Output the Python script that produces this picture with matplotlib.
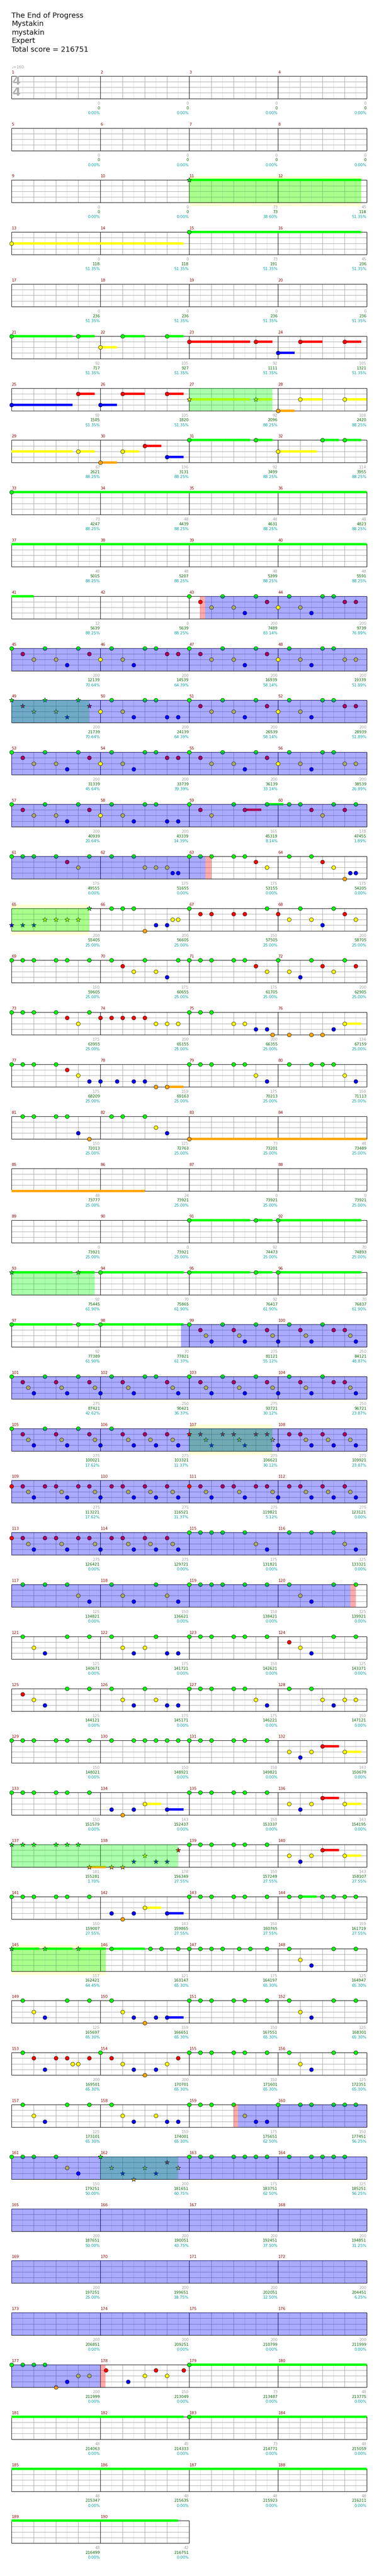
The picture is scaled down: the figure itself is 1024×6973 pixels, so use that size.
import matplotlib.pyplot as plt
from matplotlib.collections import LineCollection
from matplotlib.patches import Rectangle

TITLE_LINES = ["The End of Progress", "Mystakin", "mystakin", "Expert", "Total score = 216751"]
TEMPO = "\u2669=160"
N_MEASURES = 190

# notes per measure: <fret><beat>[~<sustain beats>]
NOTES = {
    11: "G0~7.75",
    13: "Y0~7.75",
    15: "G0~7.75",
    21: "G0~2.75 G3~.75",
    22: "Y0~.75 G1~1 G3~.75",
    23: "R0~2.75 R3~.75",
    24: "B0~.75 R1~1 R3~.75",
    25: "B0~2.75 R3~.75",
    26: "B0~.75 R1~1 R3~.75",
    27: "Y0~2.75 Y3~.75",
    28: "O0~.75 Y1~1 Y3~3.75",
    29: "Y3~.75",
    30: "O0~.75 Y1~.75 R2~.75 B3~.75",
    31: "G0~2.75 G3~.75",
    32: "Y0~1.75 G2~.75 G3~.75",
    33: "G0~33",
    43: "G0 R.5 Y1 G1.5 Y2 B2.5 G3 R3.5",
    44: "Y0 G.5 Y1 B1.5 G2 G2.5 R3 R3.5",
    45: "G0 R.5 Y1 G1.5 Y2 B2.5 G3 R3.5",
    46: "Y0 G.5 Y1 B1.5 G2 G2.5 R3 R3.5",
    47: "G0 R.5 Y1 G1.5 Y2 B2.5 G3 R3.5",
    48: "Y0 G.5 Y1 B1.5 G2 G2.5 Y3 Y3.5",
    49: "G0 R.5 Y1 G1.5 Y2 B2.5 G3 R3.5",
    50: "Y0 G.5 Y1 B1.5 G2 G2.5 B3 B3.5",
    51: "G0 R.5 Y1 G1.5 Y2 B2.5 G3 R3.5",
    52: "Y0 G.5 Y1 B1.5 G2 G2.5 R3 R3.5",
    53: "G0 R.5 Y1 G1.5 Y2 B2.5 G3 R3.5",
    54: "Y0 G.5 Y1 B1.5 G2 G2.5 R3 R3.5",
    55: "G0 R.5 Y1 G1.5 Y2 B2.5 G3 R3.5",
    56: "Y0 G.5 Y1 B1.5 G2 G2.5 Y3 Y3.5",
    57: "G0 R.5 Y1 G1.5 Y2 B2.5 G3 R3.5",
    58: "Y0 G.5 Y1 B1.5 G2 G2.5 B3 B3.5",
    59: "G0 R.5 Y1 G2 R2.5~.75 G3.5~.75",
    60: "G.5 G1 R1.5 Y2 G2.5 R3 G3.5",
    61: "G0 G.5 G1 G2 R2.5 Y3 G3.5",
    62: "G.5 G1.5 Y2 Y2.5 Y3 B3.25 B3.5",
    63: "G0 G.5 G1 G2 G2.5 R3 Y3.5",
    64: "G.5 G1.5 R2 Y2.5 O3 B3.25 B3.5",
    65: "B0 B.5 B1 Y1.5 Y2 Y2.5 Y3 G3.5",
    66: "G.5 G1 G1.5 O2 B2.5 B3 Y3.25 Y3.5",
    67: "G0 R.5 R1 R2 R2.5 G3.5",
    68: "R0 Y.5 G1 Y1.5 B2 G2.5 R3 Y3.5",
    69: "G0 G.5 G1 G2 G2.5 G3.5",
    70: "G.5 R1 Y1.5 G2 Y2.5 B3 G3.5",
    71: "G0 G.5 G1 G2 G2.5 R3 Y3.5",
    72: "G0 Y.5 B1 G1.5 R2 Y2.5 G3 R3.5",
    73: "G0 G.5 G1 G2 R2.5 Y3 G3.5",
    74: "R0 R.5 R1 R1.5 R2 Y2.5 Y3 Y3.5",
    75: "G0 G.5 G1 Y2 Y2.5 B3 B3.5 O3.75",
    76: "O.5 O1.5 O2 B2.5 Y3~.75",
    77: "G0 G.5 G1 G2 R2.5 Y3 B3.5",
    78: "B0 B.75 B1.5 B2 O2.5 O3~.75",
    79: "G0 G.5 G1 G2 G2.5 Y3 B3.5",
    80: "G.5 G1.5 G2 G2.5 Y3 B3.5",
    81: "G.5 G1 G2 G2.5 B3 O3.5",
    82: "G.5 G1 G2 Y2.5 B3",
    83: "O0~14",
    91: "G0~2.75 G3~.75",
    92: "G0~3.75",
    93: "G0~2.75 G3~.75",
    94: "G0~3.75",
    95: "G0~2.75 G3~.75",
    96: "G0~3.75",
    97: "G0~2.75 G3~.75",
    98: "G0~3.75",
    99: "G0 R.5 Y.75 B1 G1.5 R2 Y2.25 B2.5 G3 R3.5 Y3.75",
    100: "B0 G.5 R1 Y1.25 B1.5 G2 R2.5 R3 Y3.25 B3.5",
    101: "G0 R.5 Y.75 B1 G1.5 R2 Y2.25 B2.5 G3 R3.5 Y3.75",
    102: "B0 G.5 R1 Y1.25 B1.5 G2 G2.5 R3 Y3.25 B3.5",
    103: "G0 R.5 Y.75 B1 G1.5 R2 Y2.25 B2.5 G3 R3.5 Y3.75",
    104: "B0 G.5 R1 Y1.25 B1.5 G2 R2.5 R3 Y3.25 B3.5",
    105: "G0 R.5 Y.75 B1 G1.5 R2 Y2.25 B2.5 G3 R3.5 Y3.75",
    106: "B0 G.5 R1 Y1.25 B1.5 R2 Y2.25 B2.5 R3 Y3.25 B3.5",
    107: "R0 R.5 Y.75 B1 R1.5 R2 Y2.25 B2.5 R3 R3.5 Y3.75",
    108: "B0 R.5 R1 Y1.25 B1.5 R2 Y2.25 B2.5 R3 Y3.25 B3.5",
    109: "R0 R.5 Y.75 B1 R1.5 R2 Y2.25 B2.5 R3 R3.5 Y3.75",
    110: "B0 R.5 R1 Y1.25 B1.5 R2 Y2.25 B2.5 R3 Y3.25 B3.5",
    111: "R0 R.5 Y.75 B1 R1.5 R2 Y2.25 B2.5 R3 R3.5 Y3.75",
    112: "B0 R.5 R1 Y1.25 B1.5 R2 Y2.25 B2.5 R3 Y3.25 B3.5",
    113: "R0 R.5 Y.75 B1 R1.5 R2 Y2.25 B2.5 R3 R3.5 Y3.75",
    114: "B0 R.5 R1 Y1.25 B1.5 R2 Y2.25 B2.5 R3 Y3.25 B3.5",
    115: "G0 G.5 G1 G1.5 G2.5 Y3 B3.5",
    116: "G.5 G1.5 G2.5 Y3 B3.5",
    117: "G.5 G1.5 G2.5 Y3 B3.5",
    118: "G.5 Y1 B1.5 G2.5 Y3 B3.5",
    119: "G0 G.5 G1 G1.5 G2.5 G3.5",
    120: "G.5 Y1 B1.5 G2.5 G3.5",
    121: "G.5 Y1 B1.5 G2.5 G3.5",
    122: "G.5 Y1 B1.5 Y2 G2.5 B3 B3.5",
    123: "G0 G.5 G1 G2 G2.5 G3.5",
    124: "R.5 Y1 B1.5 G2.5 G3.5",
    125: "R.5 Y1 B1.5 G2.5 G3.5",
    126: "G.5 Y1 B1.5 G2 Y2.5 B3 B3.5",
    127: "G0 G.5 G1 G2 G2.5 Y3 B3.5",
    128: "G.5 G1.5 Y2 B2.5 Y3 Y3.5",
    129: "G0 G.5 G1 G2 G2.5 G3.5",
    130: "G.5 G1.5 G2 G2.5 G3 G3.5",
    131: "G0 G.5 G1 G2 G2.5 G3.5",
    132: "Y.5 B1 Y1.5 R2~.75 Y3~.75",
    133: "G0 G.5 G1 G2 G2.5 G3.5",
    134: "B.5 O1 B1.5 Y2~.75 B3~.75",
    135: "G0 G.5 G1 G2 G2.5 G3.5",
    136: "Y.5 B1 Y1.5 R2~.75 Y3~.75",
    137: "G0 G.5 G1 G2 G2.5 G3 O3.5~.75",
    138: "O.5 O1 B1.5 Y2 B2.5 B3 R3.5",
    139: "G0 G.5 G1 G2 G2.5 G3.5",
    140: "Y.5 B1 Y1.5 R2~.75 Y3~.75",
    141: "G0 G.5 G1 G2 G2.5 G3.5",
    142: "B.5 O1 B1.5 Y2~.75 B3~.75",
    143: "G0 G.5 G1 G2 G2.5 G3.5",
    144: "G.5 G1~.75 G2 G2.5 G3 G3.5",
    145: "G0~1.25 G1.5~1.25 G3~1.25",
    146: "G.5~1.5 G2.25 G2.75 G3.5",
    147: "G0 G.5 G1 G1.5 G2.25 G2.75 G3.5",
    148: "G.5 Y1 B1.5 G2.5 G3.5",
    149: "G.5 Y1 B1.5 G2.5 G3.5",
    150: "G.5 Y1 B1.5 O2 B2.5 B3~.75",
    151: "G0 G.5 G1 G2 G2.5 G3.5",
    152: "G.5 Y1 B1.5 G2.5 G3.5",
    153: "G.5 R1 B1.5 R2 R2.5 Y2.75 Y3 R3.5",
    154: "G0 R.5 Y1 B1.5 O2 B2.5 Y3 R3.5",
    155: "G0 G.5 G1 G2 G2.5 G3.5",
    156: "G.5 Y1 B1.5 G2.5 G3.5",
    157: "G.5 Y1 B1.5 G2.5 G3.5",
    158: "G.5 Y1 B1.5 Y2.5 B3 B3.5",
    159: "G0 G.5 G1 G2 Y2.5 B3 B3.5",
    160: "G0 G1 G1.5 G2.5 G3 G3.5",
    161: "G0 G.5 G1 G2 Y2.5 B3",
    162: "G0 Y.5 B1 O1.5 Y2 B2.5 R3 Y3.5",
    163: "G0 G.5 G1 G2 G2.5 G3 G3.5",
    164: "G.5 G1.5 G2 G2.5 G3",
    177: "G0 G.5 G1 G1.5 O2 B2.5 Y3 Y3.5",
    178: "R.25 B1.25 Y2 R2.5 Y3 R3.75",
    179: "G0~15.75",
    183: "G0~31.5",
}

# (start measure, beat, end measure, beat)
SP_PHRASES = [(11, 0, 12, 3.75), (27, 0, 27, 3.75), (49, 0, 49, 3.5), (65, 0, 65, 3.5),
              (93, 0, 93, 3.75), (107, 0, 107, 3.75), (137, 0, 138, 3.5), (145, 0, 146, 0.25),
              (162, 0, 162, 3.5)]
ACTIVATIONS = [(43, 0.71, 63, 0.73), (98, 3.64, 120, 3.26), (159, 2.2, 178, 0)]
SQUEEZES = [(43, 0.49, 43, 0.71), (63, 0.73, 63, 1.0), (120, 3.26, 120, 3.5),
            (159, 2.0, 159, 2.2), (178, 0, 178, 0.24)]
WHAMMY = [(11, 0, 12, 3.75), (65, 0, 65, 3.5), (107, 0, 107, 3.75), (145, 0, 146, 0.25)]

BASE_SCORE = [0, 0, 0, 0, 0, 0, 0, 0, 0, 0, 73, 45, 0, 0, 73, 45, 0, 0, 0, 0,
              92, 105, 92, 105, 92, 105, 92, 108, 67, 136, 92, 114, 73, 48, 48, 48, 48, 48, 48, 48,
              12, 0, 200, 200, 200, 200, 200, 200, 200, 200, 200, 200, 200, 200, 200, 200, 200, 200, 165, 178,
              175, 175, 175, 175, 200, 200, 150, 200, 150, 175, 175, 200, 175, 200, 200, 134, 175, 159, 175, 150,
              150, 125, 73, 48, 48, 24, 0, 0, 0, 0, 92, 70, 92, 70, 92, 70, 92, 70, 275, 250,
              275, 250, 275, 250, 275, 275, 275, 275, 275, 275, 275, 275, 275, 275, 175, 125, 125, 150, 150, 125,
              125, 175, 150, 125, 125, 175, 175, 150, 150, 150, 150, 143, 150, 143, 150, 143, 181, 178, 150, 143,
              150, 143, 150, 159, 117, 121, 175, 125, 125, 159, 150, 125, 200, 200, 150, 125, 125, 150, 175, 150,
              150, 200, 175, 125, 200, 200, 200, 200, 200, 200, 200, 200, 200, 200, 200, 200, 200, 150, 73, 48,
              48, 45, 73, 48, 48, 48, 48, 48, 48, 42]
TOTAL_SCORE = [0, 0, 0, 0, 0, 0, 0, 0, 0, 0, 73, 118, 118, 118, 191, 236, 236, 236, 236, 236,
               717, 927, 1111, 1321, 1505, 1820, 2096, 2420, 2621, 3131, 3499, 3955, 4247, 4439, 4631, 4823, 5015, 5207, 5399, 5591,
               5639, 5639, 7489, 9739, 12139, 14539, 16939, 19339, 21739, 24139, 26539, 28939, 31339, 33739, 36139, 38539, 40939, 43339, 45319, 47455,
               49555, 51655, 53155, 54205, 55405, 56605, 57505, 58705, 59605, 60655, 61705, 62905, 63955, 65155, 66355, 67159, 68209, 69163, 70213, 71113,
               72013, 72763, 73201, 73489, 73777, 73921, 73921, 73921, 73921, 73921, 74473, 74893, 75445, 75865, 76417, 76837, 77389, 77821, 81121, 84121,
               87421, 90421, 93721, 96721, 100021, 103321, 106621, 109921, 113221, 116521, 119821, 123121, 126421, 129721, 131821, 133321, 134821, 136621, 138421, 139921,
               140671, 141721, 142621, 143371, 144121, 145171, 146221, 147121, 148021, 148921, 149821, 150679, 151579, 152437, 153337, 154195, 155281, 156349, 157249, 158107,
               159007, 159865, 160765, 161719, 162421, 163147, 164197, 164947, 165697, 166651, 167551, 168301, 169501, 170701, 171601, 172351, 173101, 174001, 175651, 177451,
               179251, 181651, 183751, 185251, 187651, 190051, 192451, 194851, 197251, 199651, 202051, 204451, 206851, 209251, 210799, 211999, 211999, 213049, 213487, 213775,
               214063, 214333, 214771, 215059, 215347, 215635, 215923, 216211, 216499, 216751]
SP_PERCENT = [0.0] * 10 + [38.60, 51.35] + [51.35] * 14 + [88.25] * 16 + \
             [83.14, 76.89, 70.64, 64.39, 58.14, 51.89, 70.64, 64.39, 58.14, 51.89, 45.64, 39.39, 33.14, 26.89, 20.64, 14.39, 8.14, 1.89] + \
             [0.0] * 4 + [25.0] * 28 + [61.90] * 5 + [61.37, 55.12, 48.87, 42.62, 36.37, 30.12, 23.87, 17.62, 11.37, 30.12, 23.87, 17.62, 11.37, 5.12] + \
             [0.0] * 25 + [1.70] + [27.55] * 7 + [64.45] + [65.30] * 13 + [62.50, 56.25, 50.00, 60.75, 62.50, 56.25] + \
             [50.00, 43.75, 37.50, 31.25, 25.00, 18.75, 12.50, 6.25, 0.0, 0.0, 0.0, 0.0] + [0.0] * 14

FRET_COLORS = {"G": "#00ff00", "R": "#ff0000", "Y": "#ffff00", "B": "#0000ff", "O": "#ffa500"}
LANES = "GRYBO"

W, H = 1024, 6973
X0, MEAS_W, BEAT_W = 31, 240, 60
ROW0, ROW_STEP, LANE_H = 205.7, 140.8, 15.25
STAFF_H = 4 * LANE_H


def glob(m, b):
    return (m - 1) * 4 + b


def row_top(r):
    return ROW0 + r * ROW_STEP


def row_spans(g0, g1):
    # split a global beat range into (row, x0, x1) pieces
    out = []
    r = int(g0 // 16)
    while r * 16 < g1 - 1e-9:
        a = max(g0, r * 16)
        b = min(g1, r * 16 + 16)
        if b > a:
            out.append((r, X0 + (a - r * 16) * BEAT_W, X0 + (b - r * 16) * BEAT_W))
        r += 1
    return out


fig = plt.figure(figsize=(W / 100, H / 100), dpi=100)
ax = fig.add_axes([0, 0, 1, 1])
ax.set_xlim(0, W)
ax.set_ylim(H, 0)
ax.axis("off")

# title block
for i, line in enumerate(TITLE_LINES):
    ax.text(31, 42 + i * 23, line, fontsize=14, va="center", ha="left", color="#111111")

n_rows = (N_MEASURES + 3) // 4
light, gray, black = [], [], []
for r in range(n_rows):
    top = row_top(r)
    bot = top + STAFF_H
    nm = min(4, N_MEASURES - 4 * r)
    xr = X0 + nm * MEAS_W
    for k in range(1, 4):
        gray.append([(X0, top + k * LANE_H), (xr, top + k * LANE_H)])
    for j in range(nm):
        xm = X0 + j * MEAS_W
        for b in (0.5, 1.5, 2.5, 3.5):
            light.append([(xm + b * BEAT_W, top), (xm + b * BEAT_W, bot)])
        for b in (1, 2, 3):
            gray.append([(xm + b * BEAT_W, top), (xm + b * BEAT_W, bot)])
        if j > 0:
            black.append([(xm, top), (xm, bot)])
    black += [[(X0, top), (xr, top)], [(X0, bot), (xr, bot)],
              [(X0, top), (X0, bot)], [(xr, top), (xr, bot)]]
ax.add_collection(LineCollection(light, colors="#dcdcdc", linewidths=0.75, zorder=2))
ax.add_collection(LineCollection(gray, colors="#999999", linewidths=0.75, zorder=2.1))
ax.add_collection(LineCollection(black, colors="black", linewidths=0.9, zorder=2.2))

# measure numbers and scores
for m in range(1, N_MEASURES + 1):
    r, j = (m - 1) // 4, (m - 1) % 4
    top = row_top(r)
    bot = top + STAFF_H
    xm = X0 + j * MEAS_W
    ax.text(xm + 0.5, top - 7, str(m), fontsize=7.5, color="#8b0000", ha="left", va="baseline")
    xe = xm + MEAS_W - 1
    ax.text(xe, bot + 16, str(BASE_SCORE[m - 1]), fontsize=7.5, color="#a0a0a0", ha="right", va="baseline")
    ax.text(xe, bot + 29, str(TOTAL_SCORE[m - 1]), fontsize=7.5, color="#006400", ha="right", va="baseline")
    ax.text(xe, bot + 42, "%.2f%%" % SP_PERCENT[m - 1], fontsize=7.5, color="#009c9c", ha="right", va="baseline")

ax.text(31, row_top(0) - 20.5, TEMPO, fontsize=7.5, color="#999999", ha="left", va="baseline")
ax.text(44.5, row_top(0) + 15, "4", fontsize=23, color="#b0b0b0", ha="center", va="center", fontweight="bold", zorder=2.5)
ax.text(44.5, row_top(0) + 45, "4", fontsize=23, color="#b0b0b0", ha="center", va="center", fontweight="bold", zorder=2.5)

# whammy bands (behind the staff)
for m0, b0, m1, b1 in WHAMMY:
    for r, xa, xb in row_spans(glob(m0, b0), glob(m1, b1)):
        ax.add_patch(Rectangle((xa, row_top(r) - 10), xb - xa, STAFF_H + 20, facecolor="#ffffd2",
                               edgecolor="none", zorder=0.5))

phrases = [(glob(a, b), glob(c, d)) for a, b, c, d in SP_PHRASES]

# notes and sustains
for m, spec in NOTES.items():
    for tok in spec.split():
        lane = LANES.index(tok[0])
        body = tok[1:]
        sus = 0.0
        if "~" in body:
            body, s = body.split("~")
            sus = float(s)
        beat = float(body)
        g = glob(m, beat)
        r = (m - 1) // 4
        x = X0 + ((m - 1) % 4) * MEAS_W + beat * BEAT_W
        y = row_top(r) + lane * LANE_H
        col = FRET_COLORS[tok[0]]
        if sus > 0:
            for rr, xa, xb in row_spans(g, g + sus):
                yy = row_top(rr) + lane * LANE_H
                ax.plot([xa, xb], [yy, yy], color=col, lw=4.6, solid_capstyle="butt", zorder=3)
        star = any(p0 - 1e-6 <= g <= p1 + 1e-6 for p0, p1 in phrases)
        z = 6 if beat == 0 else 4
        if star:
            ax.scatter([x], [y], s=95, marker="*", c=col, edgecolors="black", linewidths=0.6, zorder=z)
        else:
            ax.scatter([x], [y], s=58, marker="o", c=col, edgecolors="black", linewidths=0.6, zorder=z)

# overlays: phrases (green), activations (blue), squeezes (red)
for spans, col in ((SP_PHRASES, "#00ff00"), (ACTIVATIONS, "#0000ff"), (SQUEEZES, "#ff0000")):
    for m0, b0, m1, b1 in spans:
        for r, xa, xb in row_spans(glob(m0, b0), glob(m1, b1)):
            ax.add_patch(Rectangle((xa, row_top(r)), xb - xa, STAFF_H, facecolor=col, alpha=1 / 3,
                                   edgecolor="none", zorder=5))

fig.savefig("out.png", dpi=100)
